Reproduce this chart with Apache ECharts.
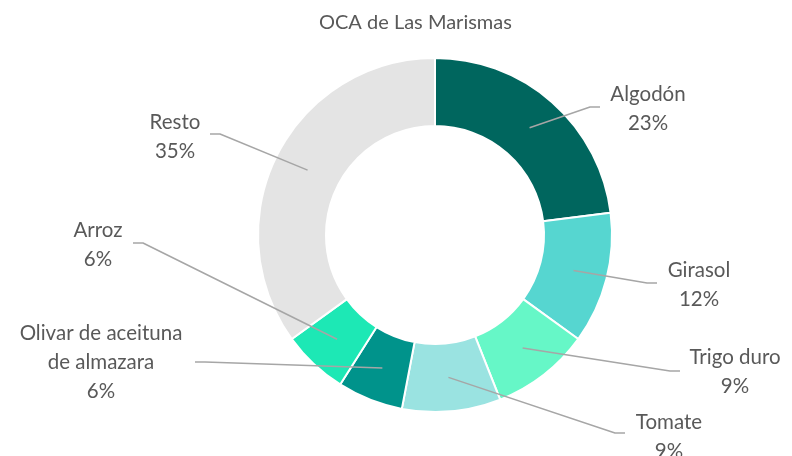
<!DOCTYPE html>
<html>
<head>
<meta charset="utf-8">
<script src="https://cdn.jsdelivr.net/npm/echarts@6/dist/echarts.min.js"></script>
<style>
  html, body { margin: 0; padding: 0; background: #fff; }
  #chart { width: 792px; height: 456px; }
</style>
</head>
<body>
<div id="chart"></div>
<script>
const categories = ["Algodón", "Girasol", "Trigo duro", "Tomate", "Olivar de aceituna\nde almazara", "Arroz", "Resto"];
const shares = [23, 12, 9, 9, 6, 6, 35];
const colors = ["#00665e", "#56d6d0", "#66f7c7", "#9ae3e1", "#00938b", "#1de8b5", "#e4e4e4"];

// label block centres, and where each leader line meets its label
const labelSpots = [[648, 109], [699, 285], [735, 372], [669, 437], [101, 362], [98, 245], [175, 137]];
const lineEnds = [[600, 107], [657, 283], [680, 371], [625, 433], [195, 362], [133, 243], [210, 134]];

const W = 792, H = 456;
const center = [435, 235];
const radius = [109, 177];
const lineStartR = (radius[0] + radius[1]) / 2;

// leader lines: from the middle of the ring at each slice's mid angle,
// a short run to the label, then a small flat step into it
const total = shares.reduce((a, b) => a + b, 0);
let cum = 0;
const leaders = shares.map((v, i) => {
  const theta = (cum + v / 2) / total * Math.PI * 2;
  cum += v;
  const start = [center[0] + lineStartR * Math.sin(theta), center[1] - lineStartR * Math.cos(theta)];
  const end = lineEnds[i];
  const step = end[0] > center[0] ? -10 : 10;
  return [start, [end[0] + step, end[1]], end];
});

const chart = echarts.init(document.getElementById("chart"));

chart.setOption({
  animation: false,
  title: {
    text: "OCA de Las Marismas",
    left: 314,
    top: 8,
    textStyle: {
      fontFamily: "Lato",
      fontSize: 20,
      fontWeight: "normal",
      color: "#595959",
    },
  },
  // a hidden pixel grid, only used to carry the leader lines
  grid: { left: 0, right: 0, top: 0, bottom: 0 },
  xAxis: { type: "value", min: 0, max: W, show: false },
  yAxis: { type: "value", min: 0, max: H, inverse: true, show: false },
  series: [
    {
      type: "pie",
      center: center,
      radius: radius,
      startAngle: 90,
      clockwise: true,
      percentPrecision: 0,
      z: 1,
      itemStyle: {
        borderColor: "#fff",
        borderWidth: 2,
      },
      label: {
        show: true,
        position: "outside",
        formatter: "{b}\n{d}%",
        fontFamily: "Lato",
        fontSize: 20.5,
        lineHeight: 29,
        align: "center",
        color: "#595959",
      },
      labelLine: { show: false },
      labelLayout: function (params) {
        const spot = labelSpots[params.dataIndex];
        return { x: spot[0], y: spot[1], align: "center", verticalAlign: "middle" };
      },
      data: categories.map((name, i) => ({
        name: name,
        value: shares[i],
        itemStyle: { color: colors[i] },
      })),
    },
  ].concat(leaders.map((pts) => ({
    type: "line",
    data: pts,
    z: 5,
    silent: true,
    symbol: "none",
    lineStyle: { color: "#a6a6a6", width: 1.5 },
  }))),
});
</script>
</body>
</html>
